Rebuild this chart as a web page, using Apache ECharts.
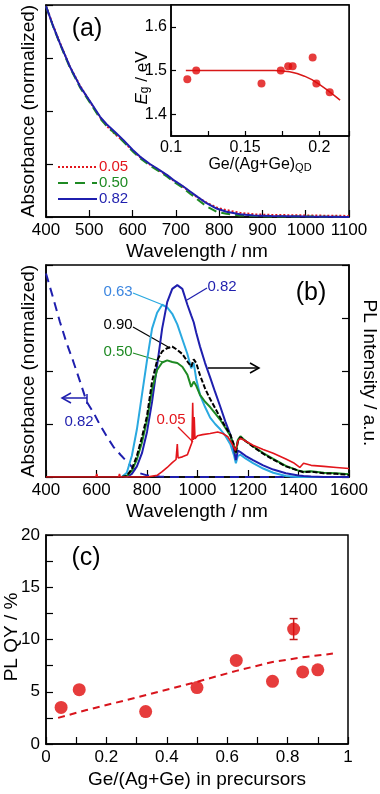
<!DOCTYPE html>
<html>
<head>
<meta charset="utf-8">
<script src="https://cdn.jsdelivr.net/npm/echarts@6/dist/echarts.min.js"></script>
<style>
  html, body { margin: 0; padding: 0; background: #fff; }
  #main { width: 380px; height: 794px; }
</style>
</head>
<body>
<div id="main"></div>
<script>
// ---- panel (a): absorbance spectra ----
var absWl  = [400, 417, 432, 455, 479, 502, 525, 540, 560, 579, 600, 617, 640, 656, 680, 694, 715, 733, 750, 771, 794, 817, 848, 880, 920, 1000, 1100];
var abs082 = [3.98, 3.59, 3.28, 2.84, 2.46, 2.18, 1.89, 1.75, 1.6, 1.45, 1.27, 1.14, 1.0, 0.92, 0.79, 0.70, 0.59, 0.48, 0.38, 0.26, 0.16, 0.10, 0.05, 0.03, 0.02, 0.01, 0.0];
var abs050 = [3.98, 3.58, 3.27, 2.82, 2.44, 2.15, 1.86, 1.72, 1.57, 1.42, 1.24, 1.11, 0.97, 0.89, 0.76, 0.67, 0.56, 0.44, 0.33, 0.20, 0.10, 0.06, 0.03, 0.02, 0.01, 0.01, 0.0];
var abs005 = [3.98, 3.60, 3.29, 2.84, 2.47, 2.17, 1.88, 1.72, 1.56, 1.43, 1.25, 1.13, 0.99, 0.91, 0.78, 0.69, 0.58, 0.47, 0.37, 0.27, 0.18, 0.13, 0.08, 0.05, 0.04, 0.03, 0.02];

// inset: band gap vs composition
var egX = [0.111, 0.117, 0.161, 0.174, 0.179, 0.182, 0.1955, 0.198, 0.207];
var egY = [1.48, 1.50, 1.47, 1.50, 1.51, 1.51, 1.53, 1.47, 1.45];
var egFitX = [0.11, 0.13, 0.15, 0.17, 0.175, 0.18, 0.185, 0.19, 0.195, 0.2, 0.205, 0.21, 0.214];
var egFitY = [1.50, 1.50, 1.50, 1.50, 1.499, 1.497, 1.493, 1.487, 1.479, 1.468, 1.456, 1.443, 1.432];
var insetYTicks = [1.4, 1.5, 1.6];

// ---- panel (b): absorbance (left) + PL (right) ----
var absBWl = [400, 430, 455, 480, 508, 535, 561, 590, 614, 640, 667, 695, 720, 745, 772, 800, 850, 900, 1000, 1600];
var absB082 = [3.84, 3.35, 2.93, 2.55, 2.18, 1.80, 1.42, 1.20, 0.98, 0.77, 0.57, 0.42, 0.29, 0.17, 0.07, 0.03, 0.01, 0.0, 0.0, 0.0];

var plWl  = [700, 720, 740, 760, 780, 800, 820, 840, 860, 880, 900, 920, 940, 960, 975, 985, 995, 1010, 1030, 1050, 1070, 1090, 1110, 1130, 1145, 1152, 1160, 1170, 1190, 1220, 1260, 1300, 1350, 1400, 1420, 1450, 1500, 1550, 1600];
var pl082 = [0, 0, 0.06, 0.20, 0.45, 0.85, 1.42, 2.10, 2.80, 3.30, 3.55, 3.62, 3.55, 3.25, 3.05, 2.92, 2.72, 2.46, 2.15, 1.88, 1.60, 1.33, 1.05, 0.80, 0.50, 0.32, 0.50, 0.47, 0.40, 0.32, 0.22, 0.14, 0.07, 0.03, 0.02, 0.01, 0, 0, 0];
var pl063 = [0, 0.08, 0.40, 0.90, 1.55, 2.20, 2.80, 3.10, 3.25, 3.20, 3.08, 2.88, 2.60, 2.32, 2.05, 2.15, 1.85, 1.55, 1.32, 1.12, 1.00, 0.90, 0.78, 0.62, 0.40, 0.26, 0.40, 0.42, 0.35, 0.26, 0.16, 0.08, 0.02, 0, 0, 0, 0, 0, 0];
var pl090 = [0, 0.02, 0.15, 0.40, 0.75, 1.15, 1.80, 2.20, 2.37, 2.43, 2.46, 2.40, 2.32, 2.18, 2.08, 2.22, 2.15, 1.92, 1.67, 1.47, 1.30, 1.12, 0.95, 0.80, 0.60, 0.45, 0.68, 0.75, 0.68, 0.57, 0.44, 0.33, 0.20, 0.12, 0.09, 0.10, 0.07, 0.06, 0.04];
var pl050 = [0, 0.02, 0.12, 0.33, 0.65, 1.07, 1.65, 2.02, 2.16, 2.20, 2.17, 2.15, 2.08, 1.93, 1.70, 1.80, 1.72, 1.55, 1.42, 1.32, 1.20, 1.08, 0.93, 0.78, 0.58, 0.45, 0.70, 0.77, 0.68, 0.58, 0.45, 0.34, 0.21, 0.12, 0.10, 0.11, 0.08, 0.07, 0.05];
var pl005Wl = [400, 598, 601, 604, 688, 691, 694, 800, 840, 860, 880, 900, 915, 920, 923, 940, 960, 970, 978, 981, 984, 987, 990, 1000, 1020, 1050, 1080, 1100, 1120, 1140, 1150, 1160, 1170, 1190, 1220, 1260, 1300, 1350, 1380, 1405, 1420, 1450, 1500, 1550, 1600];
var pl005 = [0, 0, 0.06, 0, 0, 0.06, 0, 0, 0.03, 0.10, 0.18, 0.27, 0.33, 0.62, 0.36, 0.38, 0.42, 0.55, 0.65, 1.40, 0.70, 1.13, 0.72, 0.78, 0.80, 0.82, 0.85, 0.82, 0.76, 0.60, 0.50, 0.68, 0.73, 0.68, 0.60, 0.52, 0.45, 0.34, 0.27, 0.18, 0.26, 0.22, 0.20, 0.18, 0.16];

// ---- panel (c): PL QY ----
var qyX = [0.05, 0.11, 0.33, 0.5, 0.63, 0.75, 0.82, 0.85, 0.9];
var qyY = [3.5, 5.2, 3.1, 5.4, 8.0, 6.0, 11.0, 6.9, 7.1];
var errX = [0.82];
var errLow = [10.0];
var errHigh = [12.0];
var qyFitX = [0.04, 0.134, 0.3, 0.5, 0.63, 0.75, 0.85, 0.95];
var qyFitY = [2.5, 3.25, 4.45, 5.95, 7.0, 7.85, 8.3, 8.65];

var RED = '#e3161c', GREEN = '#1e8a23', BLUE = '#1f1fae', LBLUE = '#2aa9e0', DOT = '#e00b0b';
var FONT = '"Liberation Sans", Arial, sans-serif';

function zip(xs, ys) { return xs.map(function (x, i) { return [x, ys[i]]; }); }
function plain(v) { return String(v); }

function axisBase(extra) {
  var a = {
    axisLine: { show: true, onZero: false, lineStyle: { color: '#000', width: 1.5 } },
    axisTick: { show: true, inside: true, length: 7, lineStyle: { color: '#000', width: 1.2 } },
    splitLine: { show: false },
    axisLabel: { color: '#000', fontSize: 17, fontFamily: FONT, margin: 5, formatter: plain }
  };
  for (var k in extra) a[k] = extra[k];
  return a;
}

function lineSeries(xi, yi, data, color, type, width) {
  return {
    type: 'line', xAxisIndex: xi, yAxisIndex: yi, data: data,
    showSymbol: false, symbol: 'none',
    lineStyle: { color: color, width: width || 2, type: type || 'solid' }
  };
}

function txt(x, y, text, size, color, rot) {
  return {
    type: 'text', x: x, y: y, rotation: rot || 0,
    style: { text: text, fill: color || '#000', font: size + 'px ' + FONT, align: 'center', verticalAlign: 'middle' }
  };
}
function seg(x1, y1, x2, y2, color, dash, w) {
  return {
    type: 'line', shape: { x1: x1, y1: y1, x2: x2, y2: y2 },
    style: { stroke: color, lineWidth: w || 1.2, lineDash: dash || null }
  };
}
function head(x, y, dir, color) {
  // open arrow head pointing left (dir=-1) or right (dir=1)
  return {
    type: 'polyline',
    shape: { points: [[x - dir * 9, y - 5], [x, y], [x - dir * 9, y + 5]] },
    style: { stroke: color, lineWidth: 1.5, fill: null }
  };
}

var chart = echarts.init(document.getElementById('main'));

var option = {
  animation: false,
  textStyle: { fontFamily: FONT },
  grid: [
    { left: 46, top: 5, width: 303, height: 212, show: true, borderColor: '#000', borderWidth: 1.5 },
    { left: 171, top: 5, width: 178, height: 131, show: true, borderColor: '#000', borderWidth: 1.5, backgroundColor: '#fff', z: 3 },
    { left: 46, top: 265, width: 303, height: 212, show: true, borderColor: '#000', borderWidth: 1.5 },
    { left: 46, top: 535, width: 302, height: 209, show: true, borderColor: '#000', borderWidth: 1.5 }
  ],
  xAxis: [
    axisBase({ gridIndex: 0, type: 'value', min: 400, max: 1100, interval: 100 }),
    axisBase({ gridIndex: 1, type: 'value', min: 0.1, max: 0.22, interval: 0.05, z: 4,
      axisTick: { show: true, inside: true, length: 5, lineStyle: { color: '#000', width: 1.2 } },
      minorTick: { show: true, splitNumber: 2, length: 5, lineStyle: { color: '#000', width: 1.2 } },
      axisLabel: { color: '#000', fontSize: 16, fontFamily: FONT, margin: 4, showMaxLabel: false } }),
    axisBase({ gridIndex: 2, type: 'value', min: 400, max: 1600, interval: 200 }),
    axisBase({ gridIndex: 3, type: 'value', min: 0, max: 1, interval: 0.2,
      minorTick: { show: true, splitNumber: 2, length: 7, lineStyle: { color: '#000', width: 1.2 } } })
  ],
  yAxis: [
    axisBase({ gridIndex: 0, type: 'value', min: 0, max: 4, interval: 1, axisLabel: { show: false } }),
    axisBase({ gridIndex: 1, type: 'value', min: 1.35, max: 1.65, z: 4,
      axisTick: { show: true, inside: true, length: 5, customValues: insetYTicks, lineStyle: { color: '#000', width: 1.2 } },
      axisLabel: { color: '#000', fontSize: 16, fontFamily: FONT, margin: 4, customValues: insetYTicks } }),
    axisBase({ gridIndex: 2, type: 'value', min: 0, max: 4, interval: 1, axisLabel: { show: false } }),
    axisBase({ gridIndex: 2, type: 'value', min: 0, max: 4, interval: 1, position: 'right', axisLabel: { show: false } }),
    axisBase({ gridIndex: 3, type: 'value', min: 0, max: 20, interval: 5,
      axisLabel: { color: '#000', fontSize: 17, fontFamily: FONT, margin: 6 },
      minorTick: { show: true, splitNumber: 2, length: 7, lineStyle: { color: '#000', width: 1.2 } } })
  ],
  series: [
    // (a)
    lineSeries(0, 0, zip(absWl, abs005), RED, [2, 2], 2),
    lineSeries(0, 0, zip(absWl, abs050), GREEN, [9, 5], 2),
    lineSeries(0, 0, zip(absWl, abs082), BLUE, 'solid', 2),
    // inset
    lineSeries(1, 1, zip(egFitX, egFitY), '#d81818', 'solid', 1.5),
    { type: 'scatter', xAxisIndex: 1, yAxisIndex: 1, data: zip(egX, egY), symbolSize: 8, itemStyle: { color: DOT }, z: 5 },
    // (b)
    lineSeries(2, 2, zip(absBWl, absB082), BLUE, [9, 6], 2),
    lineSeries(2, 3, zip(plWl, pl063), LBLUE, 'solid', 2),
    lineSeries(2, 3, zip(plWl, pl082), BLUE, 'solid', 2),
    lineSeries(2, 3, zip(plWl, pl050), GREEN, 'solid', 2),
    lineSeries(2, 3, zip(plWl, pl090), '#000', [5, 2], 2),
    lineSeries(2, 3, zip(pl005Wl, pl005), RED, 'solid', 1.6),
    // (c)
    lineSeries(3, 4, zip(qyFitX, qyFitY), '#d8141c', [7, 5], 2),
    {
      type: 'custom', xAxisIndex: 3, yAxisIndex: 4,
      data: errX.map(function (x, i) { return [x, errLow[i], errHigh[i]]; }),
      renderItem: function (params, api) {
        var lo = api.coord([api.value(0), api.value(1)]);
        var hi = api.coord([api.value(0), api.value(2)]);
        var st = { stroke: '#c41a1a', lineWidth: 1.5 };
        return { type: 'group', children: [
          { type: 'line', shape: { x1: lo[0], y1: lo[1], x2: hi[0], y2: hi[1] }, style: st },
          { type: 'line', shape: { x1: lo[0] - 4, y1: lo[1], x2: lo[0] + 4, y2: lo[1] }, style: st },
          { type: 'line', shape: { x1: hi[0] - 4, y1: hi[1], x2: hi[0] + 4, y2: hi[1] }, style: st }
        ] };
      }
    },
    { type: 'scatter', xAxisIndex: 3, yAxisIndex: 4, data: zip(qyX, qyY), symbolSize: 13, itemStyle: { color: DOT }, z: 5 }
  ],
  graphic: [
    // panel tags
    txt(87, 29, '(a)', 25),
    txt(311, 293, '(b)', 25),
    txt(86, 558, '(c)', 25),
    // axis names
    txt(29, 111, 'Absorbance (normalized)', 19, '#000', Math.PI / 2),
    txt(197, 252, 'Wavelength / nm', 19),
    txt(29, 371, 'Absorbance (normalized)', 19, '#000', Math.PI / 2),
    txt(369, 373, 'PL Intensity / a.u.', 19, '#000', -Math.PI / 2),
    txt(197, 512, 'Wavelength / nm', 19),
    txt(12, 637, 'PL QY / %', 19, '#000', Math.PI / 2),
    txt(197, 780, 'Ge/(Ag+Ge) in precursors', 19),
    // inset names
    {
      type: 'text', x: 141, y: 78, rotation: Math.PI / 2,
      style: {
        text: '{i|E}{s|g}{n| / eV}', align: 'center', verticalAlign: 'middle', fill: '#000',
        rich: {
          i: { fontSize: 17, fontStyle: 'italic', fontFamily: FONT, verticalAlign: 'bottom', lineHeight: 20 },
          s: { fontSize: 12, fontFamily: FONT, verticalAlign: 'bottom', lineHeight: 14 },
          n: { fontSize: 17, fontFamily: FONT, verticalAlign: 'bottom', lineHeight: 20 }
        }
      }
    },
    {
      type: 'text', x: 260, y: 163,
      style: {
        text: '{n|Ge/(Ag+Ge)}{s|QD}', align: 'center', verticalAlign: 'middle', fill: '#000',
        rich: {
          n: { fontSize: 16, fontFamily: FONT, verticalAlign: 'bottom', lineHeight: 20 },
          s: { fontSize: 11, fontFamily: FONT, verticalAlign: 'bottom', lineHeight: 12 }
        }
      }
    },
    // legend (a)
    seg(58, 167, 97, 167, RED, [2, 2], 2),
    seg(58, 183, 97, 183, GREEN, [10, 7], 2),
    seg(58, 199, 97, 199, BLUE, null, 2),
    { type: 'text', x: 99, y: 167, style: { text: '0.05', fill: RED, font: '15px ' + FONT, align: 'left', verticalAlign: 'middle' } },
    { type: 'text', x: 99, y: 183, style: { text: '0.50', fill: GREEN, font: '15px ' + FONT, align: 'left', verticalAlign: 'middle' } },
    { type: 'text', x: 99, y: 199, style: { text: '0.82', fill: BLUE, font: '15px ' + FONT, align: 'left', verticalAlign: 'middle' } },
    // (b) labels + leaders
    txt(118, 292, '0.63', 15, '#3c86e0'),
    seg(133, 293, 163, 305, LBLUE),
    txt(222, 287, '0.82', 15, BLUE),
    seg(207, 288, 187, 300, BLUE),
    txt(118, 325, '0.90', 15, '#000'),
    seg(133, 327, 170, 348, '#000'),
    txt(118, 352, '0.50', 15, GREEN),
    seg(133, 353, 163, 362, GREEN),
    txt(171, 420, '0.05', 15, RED),
    seg(178, 427, 193, 442, RED),
    txt(79, 422, '0.82', 15, BLUE),
    // arrows
    seg(87, 398, 62, 398, BLUE, null, 1.5),
    head(62, 398, -1, BLUE),
    seg(87, 394, 87, 404, BLUE, null, 1.5),
    seg(208, 368, 259, 368, '#000', null, 1.5),
    head(259, 368, 1, '#000')
  ]
};

chart.setOption(option);
</script>
</body>
</html>
